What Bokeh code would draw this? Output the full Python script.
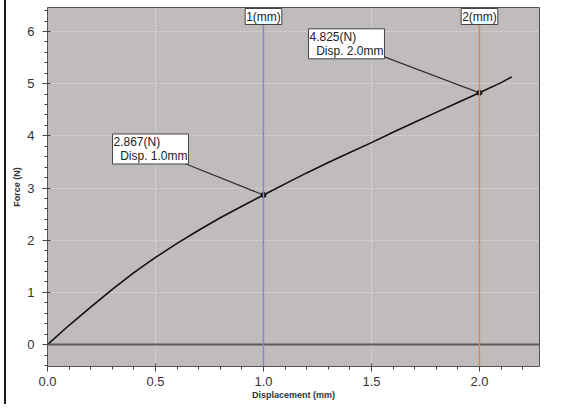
from bokeh.plotting import figure
from bokeh.models import (Label, Span, SingleIntervalTicker, PrintfTickFormatter, Range1d)
from bokeh.embed import file_html
from bokeh.resources import INLINE

# ---- data ----
displacement = [0.0, 0.1, 0.2, 0.3, 0.4, 0.5, 0.6, 0.7, 0.8, 0.9, 1.0, 1.1, 1.2,
                1.3, 1.4, 1.5, 1.6, 1.7, 1.8, 1.9, 2.0, 2.1, 2.15]
force = [0.0, 0.37, 0.72, 1.06, 1.38, 1.67, 1.94, 2.19, 2.43, 2.65, 2.867, 3.08, 3.29,
         3.49, 3.68, 3.87, 4.07, 4.26, 4.45, 4.64, 4.825, 5.02, 5.13]
marker_x = [1.0, 2.0]
marker_labels = ["1(mm)", "2(mm)"]
marker_colors = ["#8a86c8", "#d08a68"]
callout_x = [1.0, 2.0]
callout_y = [2.867, 4.825]
callout_text = ["2.867(N)\n\u00a0\u00a0Disp. 1.0mm", "4.825(N)\n\u00a0\u00a0Disp. 2.0mm"]

X_MIN, X_MAX = 0.0, 2.278
Y_MIN, Y_MAX = -0.42, 6.46

W, H = 548, 404
ML, MR, MT, MB = 47, 9, 7, 38

p = figure(width=W, height=H, output_backend="svg", toolbar_location=None,
           x_range=Range1d(X_MIN, X_MAX), y_range=Range1d(Y_MIN, Y_MAX),
           min_border_left=ML, min_border_right=MR, min_border_top=MT, min_border_bottom=MB,
           background_fill_color="#bfbcbb", border_fill_color="white", border_fill_alpha=0.0,
           styles={"box-shadow": "0 -1px 0 0 #1a1a1a",
                   "background-image": "linear-gradient(#1a1a1a, #1a1a1a)",
                   "background-size": "2px 100%",
                   "background-position": "4px 0",
                   "background-repeat": "no-repeat",
                   "background-color": "white"})
p.outline_line_color = "#555555"
p.outline_line_width = 1

# axes
p.xaxis.ticker = SingleIntervalTicker(interval=0.5, num_minor_ticks=5)
p.yaxis.ticker = SingleIntervalTicker(interval=1, num_minor_ticks=5)
p.xaxis.formatter = PrintfTickFormatter(format="%.1f")
for ax in (p.xaxis, p.yaxis):
    ax.axis_line_color = "#555555"
    ax.major_tick_line_color = "#444444"
    ax.minor_tick_line_color = "#444444"
    ax.major_tick_in = 3
    ax.major_tick_out = 5
    ax.minor_tick_in = 0
    ax.minor_tick_out = 3
    ax.major_label_text_font = "Liberation Sans"
    ax.major_label_text_font_size = "13px"
    ax.major_label_text_color = "#333333"
    ax.axis_label_text_font = "Liberation Sans"
    ax.axis_label_text_font_size = "9px"
    ax.axis_label_text_font_style = "bold"
    ax.axis_label_text_color = "#333333"
p.xaxis.axis_label = "Displacement (mm)"
p.yaxis.axis_label = "Force (N)"
p.xaxis.major_label_standoff = 5
p.xaxis.axis_label_standoff = 1
p.yaxis.major_label_standoff = 8
p.yaxis.axis_label_standoff = 2

# grid
for g in (p.xgrid, p.ygrid):
    g.grid_line_color = "#dcdcdc"
    g.grid_line_dash = "2 2"
    g.grid_line_width = 1

# zero line
p.add_layout(Span(location=0, dimension="width", line_color="#5a5a5a", line_width=2))

# marker lines and labels
for mx, ml, mc in zip(marker_x, marker_labels, marker_colors):
    p.add_layout(Span(location=mx, dimension="height", line_color=mc, line_width=1.5))
    p.add_layout(Label(x=mx, y=Y_MAX, text=ml, text_align="center", text_baseline="top",
                       text_font="Liberation Sans", text_font_size="12px", text_color="#222222",
                       background_fill_color="white", border_line_color="#444444",
                       padding=1, y_offset=-1))

# curve
p.line(displacement, force, line_color="#111111", line_width=1.6)

# callouts
frame_w = W - ML - MR
frame_h = H - MT - MB
px_x = frame_w / (X_MAX - X_MIN)
px_y = frame_h / (Y_MAX - Y_MIN)
box_off = [(-151, 61), (-171, 64)]
lead_off = [(-85, 34), (-95, 36)]
for cx, cy, ct, bo, lo in zip(callout_x, callout_y, callout_text, box_off, lead_off):
    p.segment(x0=[cx + lo[0] / px_x], y0=[cy + lo[1] / px_y], x1=[cx], y1=[cy],
              line_color="#333333", line_width=1.2)
    p.add_layout(Label(x=cx, y=cy, x_offset=bo[0], y_offset=bo[1], text=ct,
                       text_align="left", text_baseline="top",
                       text_font="Liberation Sans", text_font_size="12px",
                       text_line_height=1.0, text_color="#222222",
                       background_fill_color="white", border_line_color="#444444",
                       padding=1))
p.scatter(callout_x, callout_y, size=5, color="#111111")

open("out.html", "w").write(file_html(p, INLINE))
